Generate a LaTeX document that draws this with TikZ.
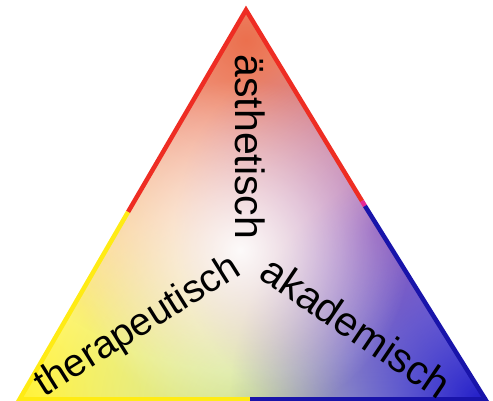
\documentclass[tikz,border=0pt]{standalone}
\usepackage{fontspec}
\setmainfont{Liberation Sans}
\usetikzlibrary{fadings}
\tikzfading[name=softfade, inner color=transparent!0, outer color=transparent!100]
\definecolor{wred}{RGB}{235,112,78}
\definecolor{wpurple}{RGB}{150,80,180}
\definecolor{wblue}{RGB}{35,30,200}
\definecolor{wyellow}{RGB}{255,242,50}
\definecolor{wgreen}{RGB}{185,215,120}
\definecolor{ered}{RGB}{238,45,35}
\definecolor{eyellow}{RGB}{255,235,20}
\definecolor{eblue}{RGB}{25,20,170}
\definecolor{epink}{RGB}{230,40,150}
\tikzset{
  edge/.style={line width=4.5pt, line cap=butt},
  word/.style={font=\fontsize{41}{41}\selectfont, inner sep=0pt}
}
\begin{document}
\begin{tikzpicture}[x=1pt,y=-1pt]
\useasboundingbox (0,0) rectangle (493,400);
\coordinate (A) at (246,10);
\coordinate (L) at (18,402);
\coordinate (R) at (487,402);
\coordinate (ML) at (128,212);
\coordinate (MR) at (362,201);
\coordinate (MRb) at (365,206);
\coordinate (MB) at (250,399);
\begin{scope}
  \clip (A) -- (L) -- (R) -- cycle;
  \fill[white] (0,0) rectangle (493,402);
  \fill[wyellow, path fading=softfade] (10,405) circle (340pt);
  \fill[wgreen, path fading=softfade, opacity=0.7] (250,410) circle (210pt);
  \fill[wred, path fading=softfade] (246,40) circle (330pt);
  \fill[wpurple, path fading=softfade, opacity=0.85] (375,230) circle (200pt);
  \fill[wblue, path fading=softfade] (480,400) circle (250pt);
  \fill[white, path fading=softfade, opacity=0.95] (240,250) circle (170pt);
\end{scope}
\draw[edge, ered, line join=miter] (ML) -- (A) -- (MR);
\draw[edge, epink] (MR) -- (MRb);
\draw[edge, eblue] (MRb) -- (R);
\draw[edge, eyellow] (ML) -- (L);
\draw[edge, eyellow] (L) ++(0,-3) coordinate (LB) (LB) -- (MB);
\draw[edge, eblue] (MB) -- (487,399);
\node[word, rotate=-90] (aes) at (250,147) {ästhetisch};
\node[word, rotate=-34] (aka) at (356,327) {akademisch};
\node[word, rotate=32, font=\fontsize{39}{39}\selectfont] (the) at (138,327) {therapeutisch};
\end{tikzpicture}
\end{document}
